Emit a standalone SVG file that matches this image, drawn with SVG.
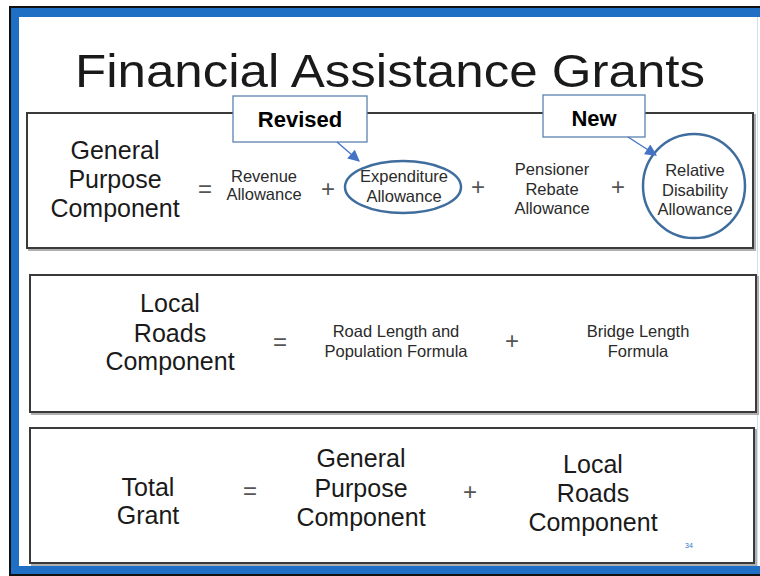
<svg xmlns="http://www.w3.org/2000/svg" width="760" height="576" viewBox="0 0 760 576">
<defs>
<style>
.t{font-family:"Liberation Sans",Arial,sans-serif;fill:#1a1a1a;text-anchor:middle}
.big{font-size:25px}
.sm{font-size:16.5px;fill:#2a2a2a}
.op{font-family:"Liberation Sans",Arial,sans-serif;fill:#555;text-anchor:middle;font-size:24px}
.box{fill:#fff;stroke:#3a3a3a;stroke-width:2}
.shadow{fill:none;stroke:#b0b0b0;stroke-width:2}
.call{fill:#fff;stroke:#5a82b0;stroke-width:1.3}
.ring{fill:none;stroke:#3f6e9e;stroke-width:2.5}
.lbl{font-family:"Liberation Sans",Arial,sans-serif;font-weight:bold;font-size:22px;fill:#000;text-anchor:middle}
</style>
<marker id="ah" viewBox="0 0 10 10" refX="9" refY="5" markerWidth="10" markerHeight="9" orient="auto" markerUnits="strokeWidth">
<path d="M0,0 L10,5 L0,10 z" fill="#4472c4"/>
</marker>
</defs>
<rect x="0" y="0" width="760" height="576" fill="#fff"/>
<!-- frame -->
<rect x="9" y="6" width="760" height="570" fill="#111"/>
<rect x="11" y="8" width="760" height="566" fill="#1f6fc5"/>
<rect x="19" y="17" width="741" height="549" fill="#fff"/>
<line x1="757.5" y1="17" x2="757.5" y2="566" stroke="#cfe0f2" stroke-width="1"/>
<text class="t" x="390" y="87" font-size="46" textLength="630" lengthAdjust="spacingAndGlyphs">Financial Assistance Grants</text>

<g id="gp-box">
<rect class="shadow" x="29" y="115" width="726" height="135"/>
<rect class="box" x="27" y="113" width="726" height="135"/>
<text class="t big" x="115" y="159">General</text>
<text class="t big" x="115" y="188">Purpose</text>
<text class="t big" x="115" y="217">Component</text>
<text class="op" x="205" y="197">=</text>
<text class="t sm" x="264" y="182">Revenue</text>
<text class="t sm" x="264" y="200">Allowance</text>
<text class="op" x="328" y="197">+</text>
<text class="op" x="478" y="195">+</text>
<text class="t sm" x="552" y="175">Pensioner</text>
<text class="t sm" x="552" y="195">Rebate</text>
<text class="t sm" x="552" y="214">Allowance</text>
<text class="op" x="618" y="195">+</text>
</g>
<g id="expenditure">
<ellipse class="ring" cx="403" cy="187" rx="58" ry="26"/>
<text class="t sm" x="404" y="182">Expenditure</text>
<text class="t sm" x="404" y="202">Allowance</text>
</g>
<g id="disability">
<ellipse class="ring" cx="694" cy="186" rx="51" ry="52"/>
<text class="t sm" x="695" y="176">Relative</text>
<text class="t sm" x="695" y="196">Disability</text>
<text class="t sm" x="695" y="215">Allowance</text>
</g>
<g id="revised">
<rect class="call" x="233" y="96" width="134" height="46"/>
<text class="lbl" x="300" y="127">Revised</text>
</g>
<g id="new">
<rect class="call" x="543" y="95" width="102" height="42"/>
<text class="lbl" x="594" y="126">New</text>
</g>

<g id="lr-box">
<rect class="shadow" x="32" y="277" width="726" height="137"/>
<rect class="box" x="30" y="275" width="726" height="137"/>
<text class="t big" x="170" y="312">Local</text>
<text class="t big" x="170" y="342">Roads</text>
<text class="t big" x="170" y="370">Component</text>
<text class="op" x="280" y="350">=</text>
<text class="t sm" x="396" y="337">Road Length and</text>
<text class="t sm" x="396" y="357">Population Formula</text>
<text class="op" x="512" y="349">+</text>
<text class="t sm" x="638" y="337">Bridge Length</text>
<text class="t sm" x="638" y="357">Formula</text>
</g>

<g id="tg-box">
<rect class="shadow" x="32" y="430" width="724" height="135"/>
<rect class="box" x="30" y="428" width="724" height="135"/>
<text class="t big" x="148" y="496">Total</text>
<text class="t big" x="148" y="524">Grant</text>
<text class="op" x="250" y="499">=</text>
<text class="t big" x="361" y="467">General</text>
<text class="t big" x="361" y="497">Purpose</text>
<text class="t big" x="361" y="526">Component</text>
<text class="op" x="470" y="500">+</text>
<text class="t big" x="593" y="473">Local</text>
<text class="t big" x="593" y="502">Roads</text>
<text class="t big" x="593" y="531">Component</text>
<text x="689" y="548" font-family="Liberation Sans,Arial,sans-serif" font-size="7" fill="#2e75c9" text-anchor="middle">34</text>
</g>

<g id="connectors">
<line x1="337" y1="142" x2="359" y2="161" stroke="#4472c4" stroke-width="1.3" marker-end="url(#ah)"/>
<line x1="628" y1="137" x2="656" y2="155" stroke="#4472c4" stroke-width="1.3" marker-end="url(#ah)"/>
</g>
</svg>
